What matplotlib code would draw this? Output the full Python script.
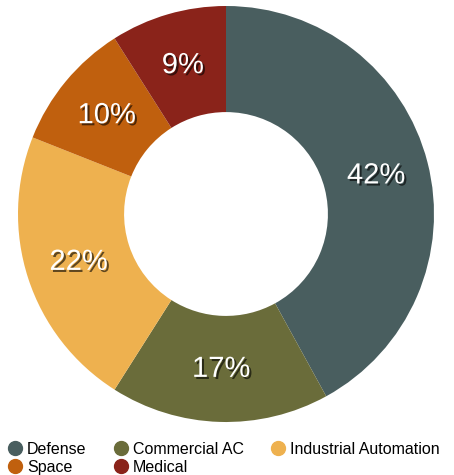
import matplotlib.pyplot as plt
import matplotlib.patheffects as pe
from matplotlib.lines import Line2D

labels = ["Defense", "Commercial AC", "Industrial Automation", "Space", "Medical"]
shares = [42, 17, 22, 10, 9]
colors = ["#495e5f", "#6a6c3a", "#eeb14f", "#c0600e", "#8a231a"]

plt.rcParams['font.family'] = ['Liberation Sans', 'DejaVu Sans']

fig = plt.figure(figsize=(4.54, 4.75), dpi=100)
ax = fig.add_axes([18 / 454, 53 / 475, 416 / 454, 416 / 475])

wedges, texts = ax.pie(shares, colors=colors, startangle=90, counterclock=False,
                       radius=1.0, labels=[f"{v}%" for v in shares], labeldistance=0.745,
                       wedgeprops=dict(width=0.51, linewidth=0),
                       textprops=dict(color="white", fontsize=21, ha="center", va="center"))
for t in texts:
    t.set_path_effects([pe.withSimplePatchShadow(offset=(1.5, -1.5), shadow_rgbFace="black", alpha=0.6)])
ax.set_xlim(-1, 1)
ax.set_ylim(-1, 1)
ax.axis("off")

handles = [Line2D([], [], marker="o", linestyle="", markersize=10, color=c) for c in colors]
order = [0, 3, 1, 4, 2]
fig.legend([handles[i] for i in order], [labels[i] for i in order], ncol=3,
           loc="lower left", bbox_to_anchor=(-0.006, -0.02), frameon=False,
           fontsize=11.5, handletextpad=0.25, columnspacing=1.65, labelspacing=0.2,
           handlelength=1.0, borderaxespad=0.2)

fig.savefig("out.png", dpi=100)
